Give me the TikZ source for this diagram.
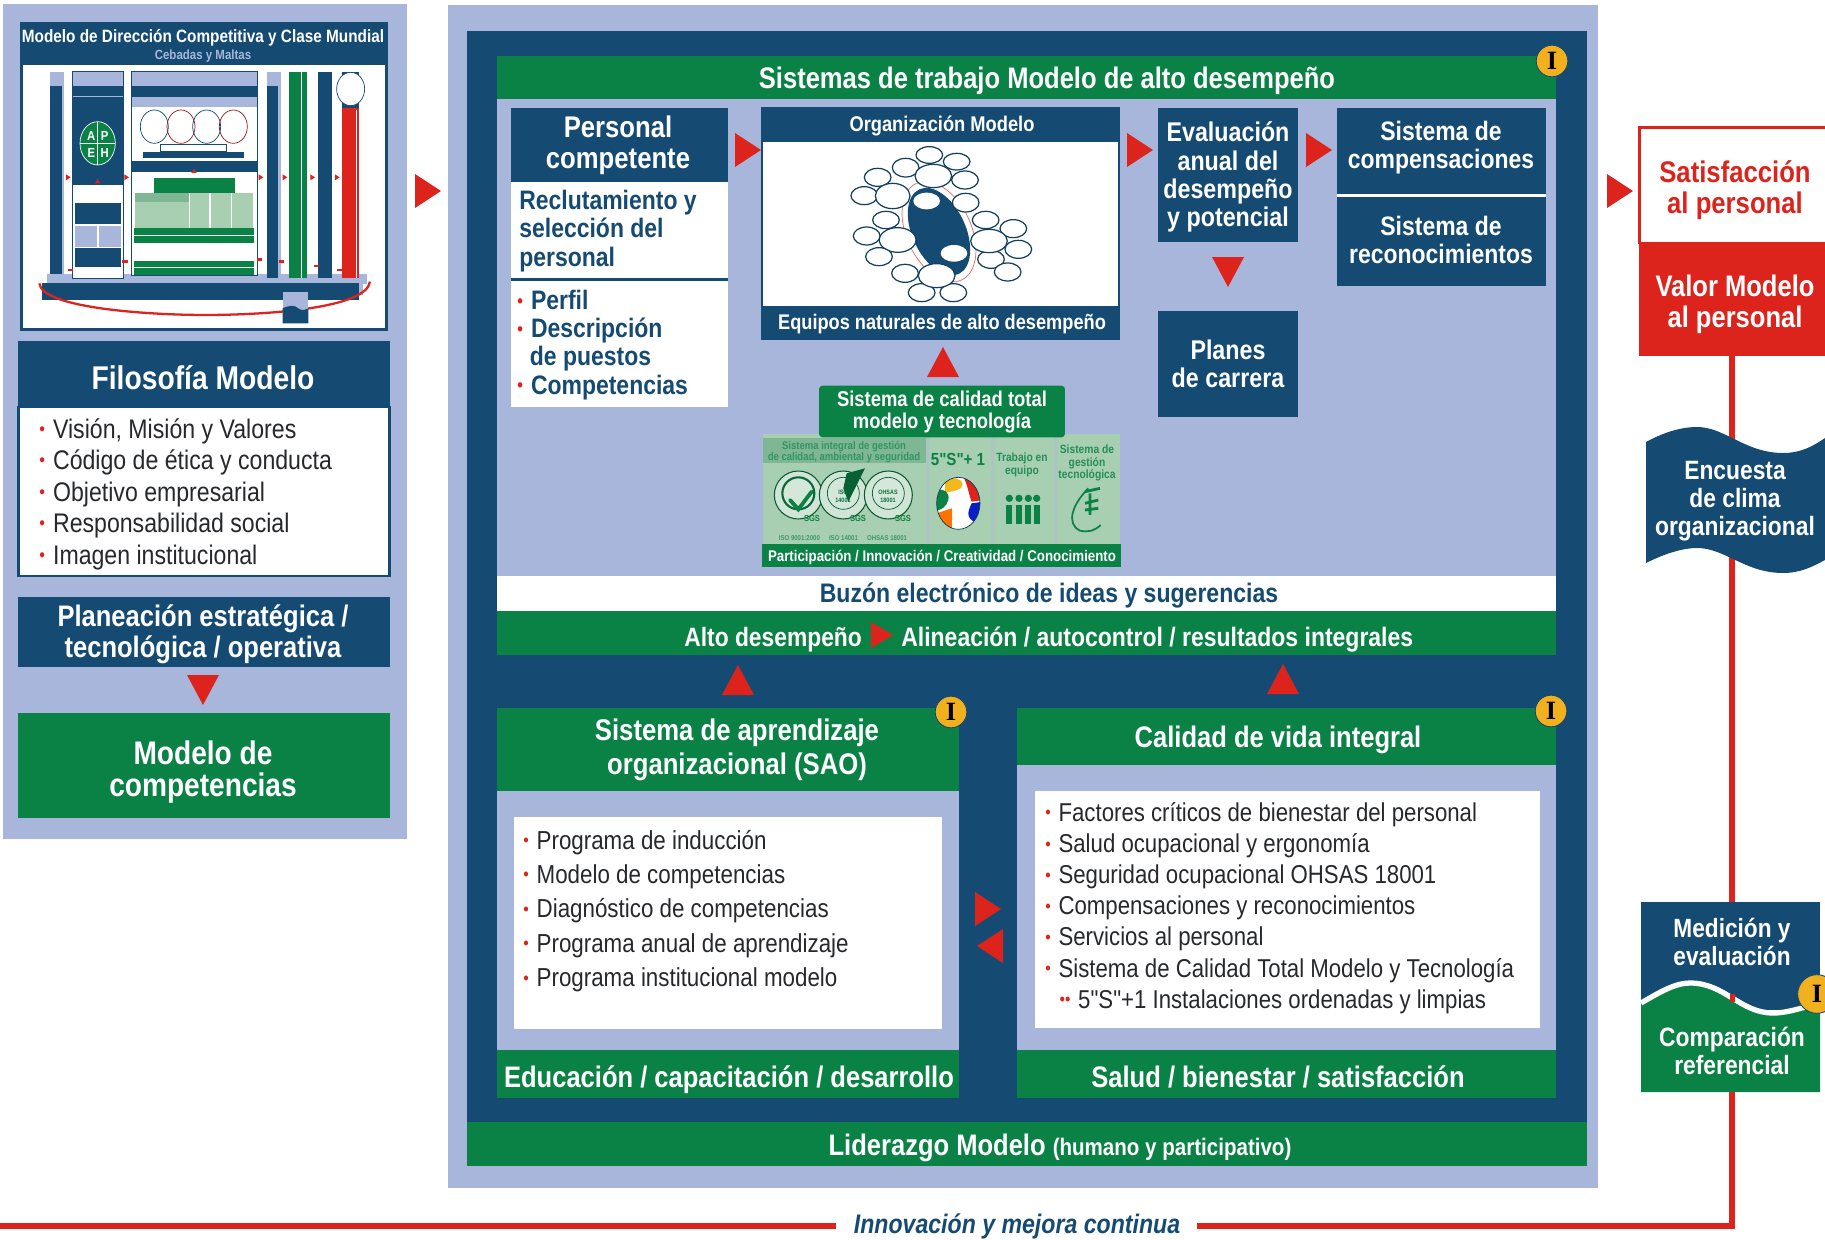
\documentclass[tikz,border=0pt]{standalone}
\usepackage{fontspec}
\setmainfont[FakeStretch=0.86]{Liberation Sans}
\newfontfamily\serbadge{Liberation Serif}
\newfontfamily\plainf[FakeStretch=0.86]{Liberation Sans}
\newcommand\qqm{{\plainf"}}
\definecolor{navyc}{HTML}{154A72}
\definecolor{inkc}{HTML}{26282C}
\definecolor{lightc}{HTML}{A9B6DC}
\definecolor{greenc}{HTML}{0B8245}
\definecolor{redc}{HTML}{DC241C}
\definecolor{yellowc}{HTML}{F2B01E}
\definecolor{paleg}{HTML}{A9CFB3}
\definecolor{midg}{HTML}{7FB795}
\newcommand\fs[2]{\fontsize{#1}{#2}\selectfont}
\newcommand\bul{\textcolor{redc}{\raisebox{0.1em}{\scalebox{0.7}{\textbullet}}}\hspace{0.3em}}
\newcommand\ArrR[2]{\fill[redc,shift={(#1,#2)}] (-13,-17)--(13,0)--(-13,17)--cycle;}
\newcommand\ArrL[2]{\fill[redc,shift={(#1,#2)}] (13,-17)--(-13,0)--(13,17)--cycle;}
\newcommand\ArrD[2]{\fill[redc,shift={(#1,#2)}] (-16,-15)--(16,-15)--(0,15)--cycle;}
\newcommand\ArrU[2]{\fill[redc,shift={(#1,#2)}] (-16,15)--(16,15)--(0,-15)--cycle;}
\tikzset{
  txtw/.style={text=white,font=\bfseries,align=center,inner sep=0pt},
  txtn/.style={text=inkc,align=left,inner sep=0pt,anchor=west},
  badge/.style={circle,fill=yellowc,draw=navyc,line width=0.5pt,minimum size=18pt,inner sep=0pt,text=black,font=\serbadge\bfseries\fontsize{15}{15}\selectfont},
  panelg/.style={text=greenc,font=\bfseries,align=center,inner sep=0pt},
}
\begin{document}
\begin{tikzpicture}[x=0.02cm,y=-0.02cm]
\useasboundingbox (0,0) rectangle (1825,1240);
\clip (0,0) rectangle (1825,1240);
% ================= LEFT PANEL
\fill[lightc] (3,4) rectangle (407,839);
\fill[navyc] (20,22) rectangle (388,331);
\fill[white] (23,65) rectangle (385,328);
\node[txtw,font=\bfseries\fs{10.15}{11}] (t1) at (203,38) {Modelo de Dirección Competitiva y Clase Mundial};
\node[txtw,text=lightc,font=\bfseries\fs{7.6}{8}] (t2) at (203,56) {Cebadas y Maltas};
\begin{scope}[x=0.02cm/3,y=-0.02cm/3]
  % base
  \fill[lightc] (140,822) rectangle (1100,852);
  \fill[lightc] (1075,850) rectangle (1090,885);
  \fill[navyc] (127,850) rectangle (1078,900);
  % col 1
  \fill[lightc] (150,215) rectangle (192,825);
  \fill[navyc] (150,258) rectangle (186,822);
  % col 2
  \fill[white,draw=navyc,line width=0.3pt] (218,215) rectangle (370,835);
  \fill[lightc] (220,215) rectangle (368,258);
  \fill[navyc] (220,258) rectangle (368,555);
  \draw[lightc,line width=0.6pt] (220,290) -- (368,290);
  \fill[navyc] (225,608) rectangle (362,673);
  \fill[lightc] (225,678) rectangle (292,740);
  \fill[lightc] (298,678) rectangle (362,740);
  \fill[navyc] (225,745) rectangle (362,800);
  \fill[greenc,draw=white,line width=0.4pt] (293,430) circle [x radius=53,y radius=65];
  \draw[white,line width=0.5pt] (240,430) -- (346,430) (293,365) -- (293,495);
  \node[text=white,font=\bfseries\fs{7.5}{8},inner sep=0pt] (lA) at (274,408) {A};
  \node[text=white,font=\bfseries\fs{7.5}{8},inner sep=0pt] (lP) at (314,408) {P};
  \node[text=white,font=\bfseries\fs{7.5}{8},inner sep=0pt] (lE) at (274,458) {E};
  \node[text=white,font=\bfseries\fs{7.5}{8},inner sep=0pt] (lH) at (314,458) {H};
  % col 3
  \fill[white,draw=navyc,line width=0.3pt] (395,215) rectangle (772,827);
  \fill[lightc] (395,215) rectangle (772,258);
  \fill[navyc] (393,258) rectangle (772,290);
  \fill[lightc] (395,290) rectangle (770,322);
  \draw[navyc,line width=0.4pt] (463,380) circle [x radius=42,y radius=50];
  \draw[redc!70!black,line width=0.4pt] (543,380) circle [x radius=42,y radius=50];
  \draw[navyc,line width=0.4pt] (620,380) circle [x radius=42,y radius=50];
  \draw[redc!70!black,line width=0.4pt] (700,380) circle [x radius=42,y radius=50];
  \draw[navyc,fill=white,line width=0.3pt] (482,432) rectangle (678,455);
  \fill[navyc] (430,455) rectangle (732,475);
  \fill[navyc] (395,483) rectangle (770,517);
  \fill[paleg] (405,578) rectangle (760,685);
  \fill[midg] (405,578) rectangle (568,605);
  \draw[white,line width=0.6pt] (568,578) -- (568,685) (630,578) -- (630,685) (695,578) -- (695,685);
  \fill[greenc] (462,533) rectangle (706,580);
  \fill[greenc] (402,685) rectangle (762,728);
  \draw[white,line width=0.5pt] (402,705) -- (762,705);
  \fill[greenc] (402,782) rectangle (762,825);
  \draw[white,line width=0.5pt] (402,803) -- (762,803);
  % col 4,5,6,7
  \fill[lightc] (800,215) rectangle (842,835);
  \fill[navyc] (800,258) rectangle (835,835);
  \fill[greenc] (868,215) rectangle (922,835);
  \draw[white,line width=0.5pt] (905,215) -- (905,835);
  \fill[navyc] (953,215) rectangle (995,835);
  \fill[navyc] (1025,215) rectangle (1078,330);
  \fill[redc] (1025,325) rectangle (1078,835);
  \draw[white,line width=0.4pt] (1068,330) -- (1068,835);
  \draw[navyc,fill=white,line width=0.4pt] (1052,267) circle [x radius=42,y radius=50];
  % red ring
  \draw[redc,line width=1.3pt] (118,850) .. controls (125,925) and (450,945) .. (615,945) .. controls (800,945) and (1100,925) .. (1110,845);
  % small box
  \fill[lightc] (848,877) rectangle (925,930);
  \fill[navyc] (848,925) .. controls (870,915) and (885,915) .. (895,925) .. controls (905,933) and (915,930) .. (925,925) -- (925,970) -- (848,970) -- cycle;
  % tiny arrows
  \foreach \px in {205,380,783,855,938,1012} {\fill[redc] (\px-7,523) -- (\px+7,532) -- (\px-7,541) -- cycle;}
  \foreach \px/\py in {293/550,582/519} {\fill[redc] (\px-8,\py) -- (\px+8,\py) -- (\px,\py-13) -- cycle;}
  \foreach \px/\py in {212/810,375/785,778/778,845/785,950/798,1020/810} {\fill[redc] (\px-8,\py-4) rectangle (\px+8,\py+4);}
\end{scope}
% Filosofia
\fill[navyc] (18,341) rectangle (390,407);
\fill[white,draw=navyc,line width=1.2pt] (18.5,407) rectangle (389.5,576);
\node[txtw,font=\bfseries\fs{18.7}{20}] (filo) at (203,378) {Filosofía Modelo};
\node[txtn,font=\fs{15.3}{17.9}] (filolist) at (39,494) {\bul Visión, Misión y Valores\\\bul Código de ética y conducta\\\bul Objetivo empresarial\\\bul Responsabilidad social\\\bul Imagen institucional};
\fill[navyc] (18,597) rectangle (390,667);
\node[txtw,font=\bfseries\fs{16.9}{17.8}] (plan) at (203,634) {Planeación estratégica /\\tecnológica / operativa};
\ArrD{203}{690}
\fill[greenc] (18,713) rectangle (390,818);
\node[txtw,font=\bfseries\fs{18.6}{18.5}] (comp) at (203,772) {Modelo de\\competencias};
\ArrR{428}{191}
% ================= MIDDLE PANEL
\fill[lightc] (448,5) rectangle (1598,1188);
\fill[navyc] (467,31) rectangle (1587,1122);
\fill[greenc] (467,1122) rectangle (1587,1166);
\node[txtw,font=\bfseries\fs{16.9}{18}] (lider) at (1060,1148) {Liderazgo Modelo {\fs{13.6}{14}(humano y participativo)}};
% upper area
\fill[lightc] (497,99) rectangle (1556,576);
\fill[greenc] (497,56) rectangle (1556,99);
\node[txtw,font=\bfseries\fs{16.9}{18}] (main) at (1047,81) {Sistemas de trabajo Modelo de alto desempeño};
\node[badge] (b1) at (1552,61) {I};
% Personal competente
\fill[white] (511,182) rectangle (728,407);
\fill[navyc] (511,108) rectangle (728,182);
\node[txtw,font=\bfseries\fs{17}{17.8}] (pc) at (618,145) {Personal\\competente};
\node[txtn,text=navyc,font=\bfseries\fs{15.2}{16}] (recl) at (519,231) {Reclutamiento y\\selección del\\personal};
\fill[navyc] (511,278) rectangle (728,280.5);
\node[txtn,text=navyc,font=\bfseries\fs{15.2}{16}] (perf) at (517,345) {\bul Perfil\\\bul Descripción\\\hspace*{0.47em}de puestos\\\bul Competencias};
\ArrR{748}{150}
% Organizacion Modelo
\fill[navyc] (761,107) rectangle (1120,340);
\fill[white] (763,142) rectangle (1118,306);
\node[txtw,font=\bfseries\fs{12.1}{13}] (om) at (942,126) {Organización Modelo};
\node[txtw,font=\bfseries\fs{12.05}{13}] (eq) at (942,324) {Equipos naturales de alto desempeño};
\begin{scope}[shift={(740,100)},x=0.02cm/3,y=-0.02cm/3]
  \draw[redc!70,line width=0.4pt,rotate around={25:(597,395)}] (597,395) ellipse [x radius=97,y radius=160];
  \fill[navyc,rotate around={25:(597,395)}] (597,395) ellipse [x radius=80,y radius=140];
  \fill[white] (560,303) ellipse [x radius=40,y radius=25];
  \fill[white] (642,460) ellipse [x radius=40,y radius=25];
  \foreach \cx/\cy/\rx/\ry in {568/165/40/25,650/185/40/25,497/203/40/28,413/232/40/27,675/240/40/27,580/228/55/35,373/287/40/27,458/288/52/38,677/308/40/28,438/360/40/26,737/360/40/26,820/386/40/27,380/408/40/27,473/420/55/37,835/448/40/27,753/478/40/27,747/423/55/35,417/470/40/27,803/516/40/27,495/520/40/27,545/578/40/27,640/578/40/27,590/527/55/36}
    {\filldraw[fill=white,draw=navyc!85!black,line width=0.7pt] (\cx,\cy) ellipse [x radius=\rx,y radius=\ry];}
\end{scope}
\ArrU{943}{362}
\ArrR{1140}{150}
% Evaluacion
\fill[navyc] (1158,108) rectangle (1298,242);
\node[txtw,font=\bfseries\fs{15.4}{16}] (eval) at (1228,177) {Evaluación\\anual del\\desempeño\\y potencial};
\ArrD{1228}{272}
\fill[navyc] (1158,311) rectangle (1298,417);
\node[txtw,font=\bfseries\fs{15.4}{16}] (planes) at (1228,364) {Planes\\de carrera};
\ArrR{1319}{150}
\fill[navyc] (1337,108) rectangle (1546,286);
\fill[white] (1337,194.5) rectangle (1546,197);
\node[txtw,font=\bfseries\fs{15.2}{16}] (scomp) at (1441,148) {Sistema de\\compensaciones};
\node[txtw,font=\bfseries\fs{15.2}{16}] (srec) at (1441,240) {Sistema de\\reconocimientos};
% Calidad total panel (zoom coordinates)
\begin{scope}[shift={(740,360)},x=0.02cm/3,y=-0.02cm/3]
  \fill[paleg] (68,222) rectangle (1140,552);
  \fill[midg] (68,235) rectangle (558,310);
  \foreach \sx in {557,752,942} {\fill[paleg!70!lightc] (\sx,222) rectangle (\sx+12,552);}
  \fill[greenc] (65,552) rectangle (1142,620);
  \fill[greenc,rounded corners=2pt] (237,77) rectangle (975,232);
  % seals
  \foreach \sx in {175,310,445} {
    \filldraw[fill=paleg!55!white,draw=greenc!70!black,line width=0.6pt] (\sx,405) circle [radius=72];
    \filldraw[fill=white!50!paleg,draw=greenc!70!black,line width=0.4pt] (\sx,400) circle [radius=48];
  }
  \draw[greenc!80!black,line width=1.2pt] (175,400) circle [radius=48];
  \fill[greenc!75!black] (320,340) -- (375,325) -- (345,385) -- (325,425) -- (310,385) -- cycle;
  \draw[greenc,line width=2.2pt,line cap=round] (150,420) -- (175,448) -- (215,395);
  % ball
  \begin{scope}
    \clip (655,430) ellipse [x radius=65,y radius=78];
    \fill[white] (580,340) rectangle (730,520);
    \fill[yellowc!90!yellow] (615,360) .. controls (640,350) and (665,355) .. (668,372) .. controls (665,395) and (640,390) .. (615,400) -- cycle;
    \fill[redc] (670,350) -- (730,370) -- (730,420) -- (695,425) .. controls (685,400) and (685,380) .. (670,350);
    \fill[blue!60!navyc] (730,425) -- (695,430) .. controls (680,460) and (680,475) .. (710,490) -- (730,480) -- cycle;
    \fill[greenc] (590,390) .. controls (610,385) and (630,395) .. (625,420) .. controls (620,440) and (600,455) .. (585,450) -- cycle;
    \fill[orange!90!red] (590,460) -- (635,445) .. controls (640,470) and (630,500) .. (640,515) -- (590,505) -- cycle;
  \end{scope}
  \draw[navyc!70!black,line width=0.4pt] (655,430) ellipse [x radius=65,y radius=78];
  % people
  \foreach \sx in {808,837,865,890} {
    \fill[greenc] (\sx,415) circle [radius=11];
    \fill[greenc] (\sx-9,435) rectangle (\sx+9,492);
  }
  % e logo
  \draw[greenc,line width=1pt] (1045,385) .. controls (1000,430) and (975,490) .. (1020,512) .. controls (1045,518) and (1065,512) .. (1082,495);
  \draw[greenc,line width=1.6pt] (1035,395) -- (1080,385) (1050,400) -- (1050,465) (1035,430) -- (1075,420) (1035,450) -- (1075,445);
\end{scope}
\node[txtw,font=\bfseries\fs{12.2}{12.4}] (sct) at (942,412) {Sistema de calidad total\\modelo y tecnología};
\node[panelg,text=greenc!75!paleg,font=\bfseries\fs{6.3}{6.6}] (q1) at (844,452) {Sistema integral de gestión\\de calidad, ambiental y seguridad};
\node[panelg,font=\bfseries\fs{10}{10}] (q2) at (958,459) {5\qqm S\qqm + 1};
\node[panelg,text=greenc!85!paleg,font=\bfseries\fs{6.8}{7}] (q3) at (1022,465) {Trabajo en\\equipo};
\node[panelg,text=greenc!85!paleg,font=\bfseries\fs{6.8}{7}] (q4) at (1087,463) {Sistema de\\gestión\\tecnológica};
\node[panelg,text=greenc!70!paleg,font=\bfseries\fs{4}{5}] (q5) at (843,538) {ISO 9001:2000\hspace{1.3em}ISO 14001\hspace{1.3em}OHSAS 18001};
\foreach \sx/\sn in {812/s1,858/s2,903/s3} {\node[panelg,font=\bfseries\fs{5}{5}] (\sn) at (\sx,518) {SGS};}
\node[panelg,text=greenc!85!black,font=\bfseries\fs{3.6}{4.4}] (q6) at (843,496) {ISO\\14001};
\node[panelg,text=greenc!85!black,font=\bfseries\fs{3.6}{4.4}] (q7) at (888,496) {OHSAS\\18001};
\node[txtw,font=\bfseries\fs{8.8}{11}] (part) at (942,557) {Participación / Innovación / Creatividad / Conocimiento};
% Buzon
\fill[white] (497,576) rectangle (1556,611);
\node[text=navyc,font=\bfseries\fs{15.25}{16},inner sep=0pt] (buzon) at (1049,596) {Buzón electrónico de ideas y sugerencias};
\fill[greenc] (497,611) rectangle (1556,655);
\node[txtw,anchor=west,font=\bfseries\fs{15.1}{16}] (alto) at (684,640) {Alto desempeño};
\fill[redc] (871,622) -- (893,635) -- (871,648) -- cycle;
\node[txtw,anchor=west,font=\bfseries\fs{15.2}{16}] (alin) at (901,640) {Alineación / autocontrol / resultados integrales};
\ArrU{738}{680}
\ArrU{1283}{679}
% SAO
\fill[lightc] (497,791) rectangle (959,1050);
\fill[white] (514,817) rectangle (942,1029);
\fill[greenc] (497,708) rectangle (959,791);
\node[txtw,font=\bfseries\fs{17}{19.3}] (sao) at (737,750) {Sistema de aprendizaje\\organizacional (SAO)};
\node[badge] (b2) at (951,712) {I};
\node[txtn,font=\fs{14.8}{19.6}] (saolist) at (523,911) {\bul Programa de inducción\\\bul Modelo de competencias\\\bul Diagnóstico de competencias\\\bul Programa anual de aprendizaje\\\bul Programa institucional modelo};
\fill[greenc] (497,1050) rectangle (959,1098);
\node[txtw,font=\bfseries\fs{16.9}{18}] (edu) at (729,1080) {Educación / capacitación / desarrollo};
% Calidad de vida
\fill[lightc] (1017,765) rectangle (1556,1050);
\fill[white] (1035,791) rectangle (1540,1028);
\fill[greenc] (1017,708) rectangle (1556,765);
\node[txtw,font=\bfseries\fs{16.9}{18}] (cvi) at (1278,740) {Calidad de vida integral};
\node[badge] (b3) at (1551,711) {I};
\node[txtn,font=\fs{14.7}{17.7}] (cvlist) at (1045,908) {\bul Factores críticos de bienestar del personal\\\bul Salud ocupacional y ergonomía\\\bul Seguridad ocupacional OHSAS 18001\\\bul Compensaciones y reconocimientos\\\bul Servicios al personal\\\bul Sistema de Calidad Total Modelo y Tecnología\\\hspace*{0.55em}\bul\hspace{-0.3em}\bul 5\qqm S\qqm +1 Instalaciones ordenadas y limpias};
\fill[greenc] (1017,1050) rectangle (1556,1098);
\node[txtw,font=\bfseries\fs{16.9}{18}] (salud) at (1278,1077) {Salud / bienestar / satisfacción};
\ArrR{988}{909}
\ArrL{990}{946}
% ================= RIGHT
\ArrR{1620}{191}
\coordinate (rtop) at (1732,350);
\coordinate (rcorner) at (1732,1226);
\coordinate (rend) at (1197,1226);
\coordinate (lstart) at (0,1226);
\coordinate (lend) at (836,1226);
\draw[redc,line width=3pt] (rtop) -- (rcorner) -- (rend);
\draw[redc,line width=3pt] (lstart) -- (lend);
\node[text=navyc,font=\bfseries\itshape\fs{15.3}{16},inner sep=0pt] (inno) at (1017,1226) {Innovación y mejora continua};
\fill[white,draw=redc,line width=1.2pt] (1639.5,127.5) rectangle (1830,243);
\fill[redc] (1639,242) rectangle (1825,356);
\node[txtw,text=redc,font=\bfseries\fs{17}{17.8}] (sat) at (1735,190) {Satisfacción\\al personal};
\node[txtw,font=\bfseries\fs{16.9}{17.8}] (valor) at (1735,304) {Valor Modelo\\al personal};
% Encuesta flag
\fill[navyc] (1646,442) .. controls (1668,430) and (1685,427) .. (1697,427) .. controls (1725,427) and (1745,453) .. (1783,453) .. controls (1800,453) and (1812,447) .. (1825,438) -- (1825,560) .. controls (1812,567) and (1800,573) .. (1783,573) .. controls (1745,573) and (1725,548) .. (1697,548) .. controls (1685,548) and (1668,552) .. (1646,563) -- cycle;
\node[txtw,font=\bfseries\fs{15.1}{16}] (enc) at (1735,501) {Encuesta\\de clima\\organizacional};
% Medicion / comparacion
\fill[navyc] (1641,902) rectangle (1820,1010);
\fill[greenc] (1641,1003) .. controls (1660,992) and (1675,983) .. (1690,983) .. controls (1725,983) and (1740,1013) .. (1773,1013) .. controls (1785,1013) and (1795,1010) .. (1820,1003) -- (1820,1092) -- (1641,1092) -- cycle;
\draw[white,line width=3pt] (1641,1003) .. controls (1660,992) and (1675,983) .. (1690,983) .. controls (1725,983) and (1740,1013) .. (1773,1013) .. controls (1785,1013) and (1795,1010) .. (1820,1003);
\fill[redc] (1729.5,994) rectangle (1734.5,1002);
\node[txtw,font=\bfseries\fs{15}{16.2}] (med) at (1732,942) {Medición y\\evaluación};
\node[txtw,font=\bfseries\fs{15.1}{16.2}] (cmp) at (1732,1051) {Comparación\\referencial};
\node[badge,minimum size=22pt] (b4) at (1817,994) {I};
\end{tikzpicture}
\end{document}
